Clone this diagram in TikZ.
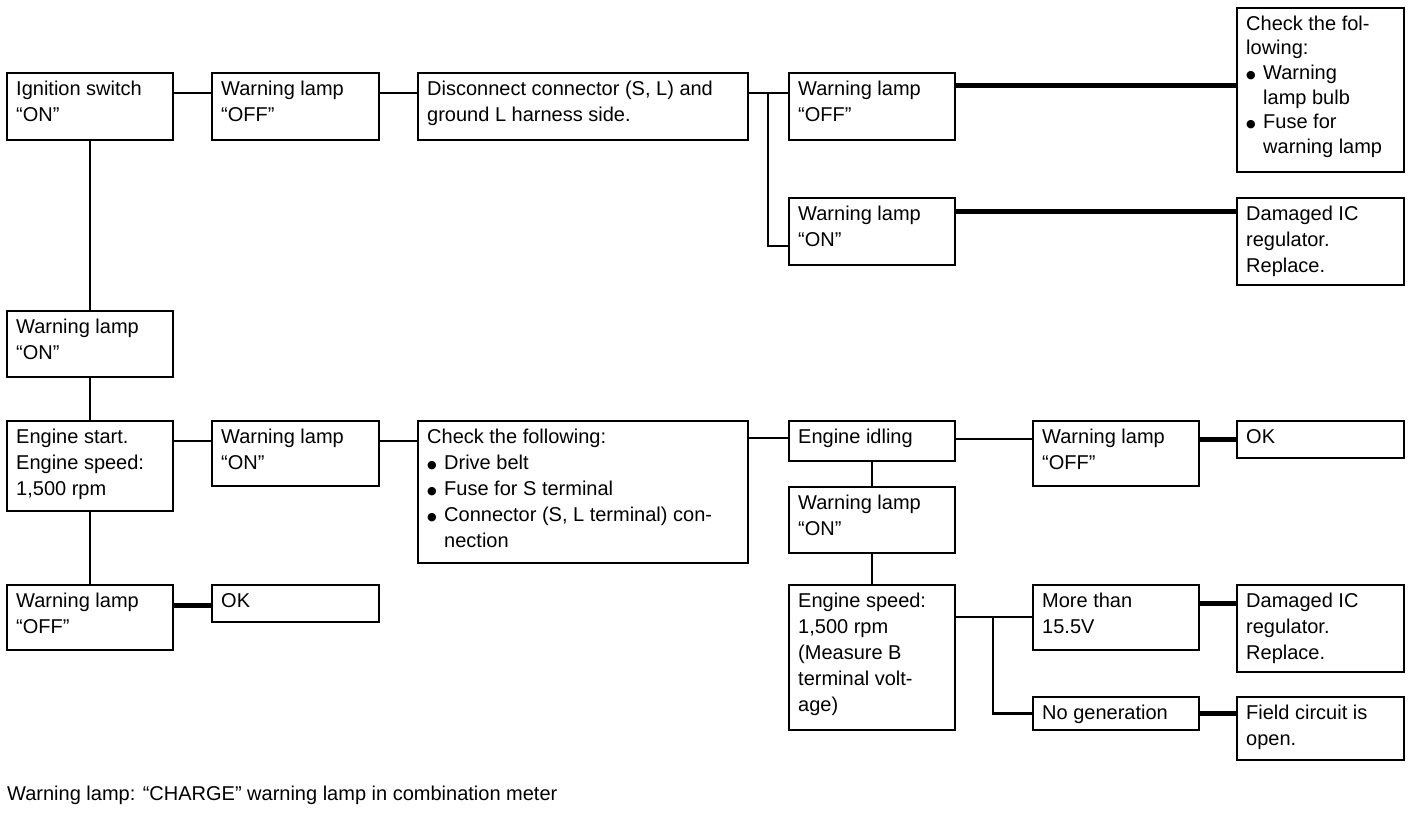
\documentclass[tikz,border=0pt]{standalone}
\usepackage{fontspec}
\setmainfont{Liberation Sans}
\newfontfamily\djfont{DejaVu Sans}
\newcommand\bul{\makebox[17pt][l]{\raisebox{1pt}{\djfont\fontsize{11}{11}\selectfont ●}}}
\newcommand\ind{\hspace*{17pt}}
\newcommand\topstrut{\rule{0pt}{16pt}}
\tikzset{
  fb/.style={draw, line width=2.2pt, anchor=north west, inner sep=0pt, outer sep=0pt},
  ft/.style={anchor=north west, align=left, inner sep=0pt, font=\fontsize{20}{26}\selectfont},
  cn/.style={line width=2.2pt},
  cnb/.style={line width=5pt},
}
\newcommand\fbx[7][26]{%
  \node[fb, minimum width=#5pt, minimum height=#6pt] (#2) at (#3,#4) {};
  \node[ft, font=\fontsize{20}{#1}\selectfont] at ([xshift=9pt,yshift=-6pt]#2.north west) {\topstrut#7};
}
\begin{document}
\begin{tikzpicture}[x=1pt,y=-1pt]
\fill[white] (0,0) rectangle (1424,812);
\useasboundingbox (0,0) rectangle (1424,812);

\fbx{ign}{7}{73}{166}{67}{Ignition switch\\“ON”}
\fbx{wl1}{212}{73}{167}{67}{Warning lamp\\“OFF”}
\fbx{disc}{418}{73}{330}{67}{Disconnect connector (S, L) and\\ground L harness side.}
\fbx{wl2}{789}{73}{166}{67}{Warning lamp\\“OFF”}
\fbx[24.6]{chk1}{1237}{8}{167}{164}{Check the fol-\\lowing:\\\bul Warning\\\ind lamp bulb\\\bul Fuse for\\\ind warning lamp}
\fbx{wl3}{789}{198}{166}{67}{Warning lamp\\“ON”}
\fbx{dmg1}{1237}{198}{167}{87}{Damaged IC\\regulator.\\Replace.}
\fbx{wl4}{7}{311}{166}{66}{Warning lamp\\“ON”}
\fbx{eng}{7}{421}{166}{90}{Engine start.\\Engine speed:\\1,500 rpm}
\fbx{wl5}{212}{421}{167}{65}{Warning lamp\\“ON”}
\fbx{chk2}{418}{421}{330}{142}{Check the following:\\\bul Drive belt\\\bul Fuse for S terminal\\\bul Connector (S, L terminal) con-\\\ind nection}
\fbx{idle}{789}{421}{166}{40}{Engine idling}
\fbx{wl6}{1033}{421}{166}{65}{Warning lamp\\“OFF”}
\fbx{ok2}{1237}{421}{167}{37}{OK}
\fbx{wl7}{789}{487}{166}{66}{Warning lamp\\“ON”}
\fbx{spd}{789}{585}{166}{145}{Engine speed:\\1,500 rpm\\(Measure B\\terminal volt-\\age)}
\fbx{more}{1033}{585}{166}{65}{More than\\15.5V}
\fbx{nogen}{1033}{697}{166}{33}{No generation}
\fbx{dmg2}{1237}{585}{167}{87}{Damaged IC\\regulator.\\Replace.}
\fbx{field}{1237}{697}{167}{63}{Field circuit is\\open.}
\fbx{wl8}{7}{585}{166}{65}{Warning lamp\\“OFF”}
\fbx{ok1}{212}{585}{167}{37}{OK}

\node[ft, anchor=base west] (foot) at (7,800) {Warning lamp: “CHARGE” warning lamp in combination meter};

% top row
\coordinate (a1) at ([yshift=-20pt]ign.north east);
\draw[cn] (a1) -- (a1 -| wl1.west);
\coordinate (a2) at ([yshift=-20pt]wl1.north east);
\draw[cn] (a2) -- (a2 -| disc.west);
\coordinate (a3) at ([yshift=-20pt]disc.north east);
\draw[cn] (a3) -- (a3 -| wl2.west);
\coordinate (j1) at (768,93);
\coordinate (a3b) at ([yshift=19pt]wl3.south west);
\draw[cn] (j1) |- (a3b);
\coordinate (a4) at ([yshift=-12pt]wl2.north east);
\draw[cnb] (a4) -- (a4 -| chk1.west);
\coordinate (a5) at ([yshift=-13pt]wl3.north east);
\draw[cnb] (a5) -- (a5 -| dmg1.west);

% left column
\draw[cn] (ign.south) -- (wl4.north);
\draw[cn] (wl4.south) -- (eng.north);
\draw[cn] (eng.south) -- (wl8.north);
\coordinate (a6) at ([yshift=-20pt]wl8.north east);
\draw[cnb] (a6) -- (a6 -| ok1.west);

% middle row
\coordinate (b1) at ([yshift=-20pt]eng.north east);
\draw[cn] (b1) -- (b1 -| wl5.west);
\coordinate (b2) at ([yshift=-20pt]wl5.north east);
\draw[cn] (b2) -- (b2 -| chk2.west);
\coordinate (b3) at ([yshift=-17pt]chk2.north east);
\draw[cn] (b3) -- (b3 -| idle.west);
\coordinate (b4) at ([yshift=-18pt]idle.north east);
\draw[cn] (b4) -- (b4 -| wl6.west);
\coordinate (b5) at ([yshift=-18pt]wl6.north east);
\draw[cnb] (b5) -- (b5 -| ok2.west);
\draw[cn] (idle.south) -- (wl7.north);
\draw[cn] (wl7.south) -- (spd.north);

% bottom right
\coordinate (c1) at ([yshift=-32pt]spd.north east);
\draw[cn] (c1) -- (c1 -| more.west);
\coordinate (j2) at (993,617);
\draw[cn] (j2) |- (nogen.west);
\coordinate (c2) at ([yshift=-18pt]more.north east);
\draw[cnb] (c2) -- (c2 -| dmg2.west);
\draw[cnb] (nogen.east) -- (nogen.east -| field.west);
\end{tikzpicture}
\end{document}
